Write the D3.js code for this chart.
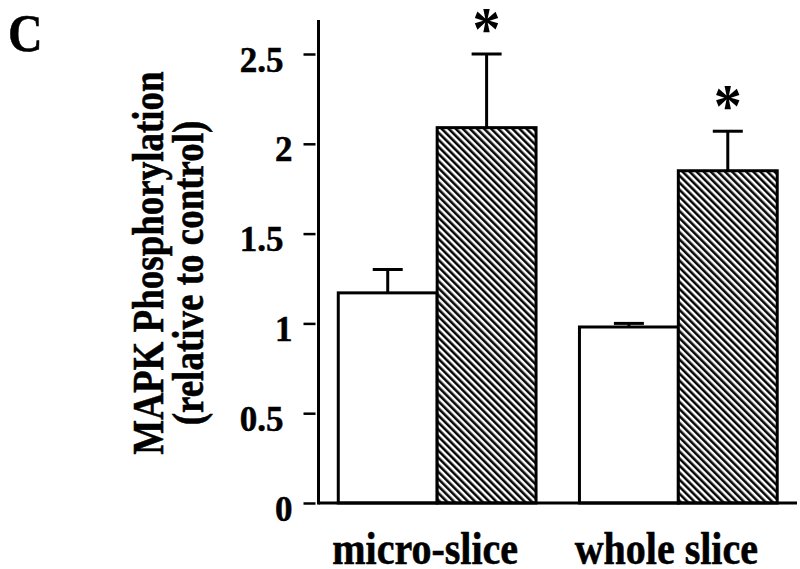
<!DOCTYPE html>
<html>
<head>
<meta charset="utf-8">
<script src="https://cdn.jsdelivr.net/npm/d3@7"></script>
<style>
  html, body { margin: 0; padding: 0; background: #fff; }
  svg { display: block; }
  text { font-family: "Liberation Serif", "Times New Roman", serif; font-weight: bold; fill: #000; stroke: #000; stroke-width: 0.5px; }
</style>
</head>
<body>
<svg id="chart" width="800" height="569"></svg>
<script>
// ---- data ----
const categories = ["micro-slice", "whole slice"];
const conditions = ["control", "treated"];
const controlValues = [1.17, 0.98];
const controlErrors = [0.13, 0.02];
const treatedValues = [2.09, 1.85];
const treatedErrors = [0.41, 0.22];
const treatedSignificant = [true, true];
const yTicks = [0, 0.5, 1, 1.5, 2, 2.5];
const yTickLabels = ["0", "0.5", "1", "1.5", "2", "2.5"];
const yTitleLines = ["MAPK Phosphorylation", "(relative to control)"];
const panelLabel = "C";

// ---- build rows ----
const rows = [];
categories.forEach((c, i) => {
  rows.push({ cat: c, cond: "control", value: controlValues[i], err: controlErrors[i], sig: false });
  rows.push({ cat: c, cond: "treated", value: treatedValues[i], err: treatedErrors[i], sig: treatedSignificant[i] });
});

const svg = d3.select("#chart");
const axisX = 318.5, baseY = 503, axisTopValue = 2.69, axisRight = 797;

const y = d3.scaleLinear().domain([0, 2.5]).range([baseY, 54]);
const x0 = d3.scaleBand().domain(categories).range([axisX, axisRight])
  .paddingInner(0.18).paddingOuter(0.082);
const x1 = d3.scaleBand().domain(conditions).range([0, x0.bandwidth()]).padding(0);

// hatch pattern
const defs = svg.append("defs");
const pat = defs.append("pattern")
  .attr("id", "hatch").attr("patternUnits", "userSpaceOnUse")
  .attr("width", 5).attr("height", 10)
  .attr("patternTransform", "rotate(-45)");
pat.append("rect").attr("width", 5).attr("height", 10).attr("fill", "#fff");
pat.append("line").attr("x1", 1.3).attr("x2", 1.3).attr("y1", 0).attr("y2", 10)
  .attr("stroke", "#000").attr("stroke-width", 2.5);

// bars
const g = svg.append("g");
g.selectAll("rect.bar").data(rows).join("rect")
  .attr("class", "bar")
  .attr("x", d => x0(d.cat) + x1(d.cond))
  .attr("y", d => y(d.value))
  .attr("width", x1.bandwidth())
  .attr("height", d => baseY - y(d.value))
  .attr("fill", d => d.cond === "treated" ? "url(#hatch)" : "#fff")
  .attr("stroke", "#000").attr("stroke-width", 3);

// error bars (upper only)
const cx = d => x0(d.cat) + x1(d.cond) + x1.bandwidth() / 2;
g.selectAll("line.err").data(rows).join("line")
  .attr("class", "err")
  .attr("x1", cx).attr("x2", cx)
  .attr("y1", d => y(d.value)).attr("y2", d => y(d.value + d.err))
  .attr("stroke", "#000").attr("stroke-width", 3);
g.selectAll("line.cap").data(rows).join("line")
  .attr("class", "cap")
  .attr("x1", d => cx(d) - 15).attr("x2", d => cx(d) + 15)
  .attr("y1", d => y(d.value + d.err)).attr("y2", d => y(d.value + d.err))
  .attr("stroke", "#000").attr("stroke-width", 3);

// asterisks
g.selectAll("text.sig").data(rows.filter(d => d.sig)).join("text")
  .attr("class", "sig")
  .attr("text-anchor", "middle")
  .attr("font-size", 56)
  .style("stroke-width", "0px")
  .attr("transform", d => `translate(${cx(d)},${y(d.value + d.err) - 5}) scale(1,1.1)`)
  .text("*");

// y axis
const yAxis = d3.axisLeft(y).tickValues(yTicks)
  .tickFormat((d, i) => yTickLabels[i]).tickSize(15).tickPadding(0);
const ya = svg.append("g").attr("transform", `translate(${axisX},0)`).call(yAxis);
ya.select(".domain").remove();
ya.selectAll(".tick line").attr("x1", -3).attr("x2", -15)
  .attr("stroke", "#000").attr("stroke-width", 2.5);
ya.selectAll(".tick text")
  .attr("x", null).attr("dy", null)
  .attr("font-size", 35)
  .attr("font-family", "Liberation Serif")
  .attr("font-weight", "bold")
  .attr("text-anchor", "end")
  .attr("transform", d => `translate(${Number.isInteger(d) ? -26 : -35},17) scale(1,1.05)`);
svg.append("line")
  .attr("x1", axisX).attr("x2", axisX)
  .attr("y1", y(axisTopValue)).attr("y2", baseY + 1.5)
  .attr("stroke", "#000").attr("stroke-width", 3);

// x baseline
svg.append("line")
  .attr("x1", axisX).attr("x2", axisRight)
  .attr("y1", baseY).attr("y2", baseY)
  .attr("stroke", "#000").attr("stroke-width", 3);

// x labels
svg.selectAll("text.xlab").data(categories).join("text")
  .attr("class", "xlab")
  .attr("text-anchor", "middle")
  .attr("font-size", 40)
  .attr("transform", d => `translate(${x0(d) + x0.bandwidth() / 2 - 12},564) scale(1,1.16)`)
  .text(d => d);

// y title
const titleCenterY = [263, 273];
const titleBaseX = [163, 203];
yTitleLines.forEach((t, i) => {
  svg.append("text")
    .attr("text-anchor", "middle")
    .attr("font-size", 37)
    .attr("transform", `translate(${titleBaseX[i]},${titleCenterY[i]}) rotate(-90) scale(1,1.2)`)
    .text(t);
});

// panel label
svg.append("text")
  .attr("font-size", 48)
  .attr("transform", "translate(8,51) scale(1,1.12)")
  .text(panelLabel);
</script>
</body>
</html>
